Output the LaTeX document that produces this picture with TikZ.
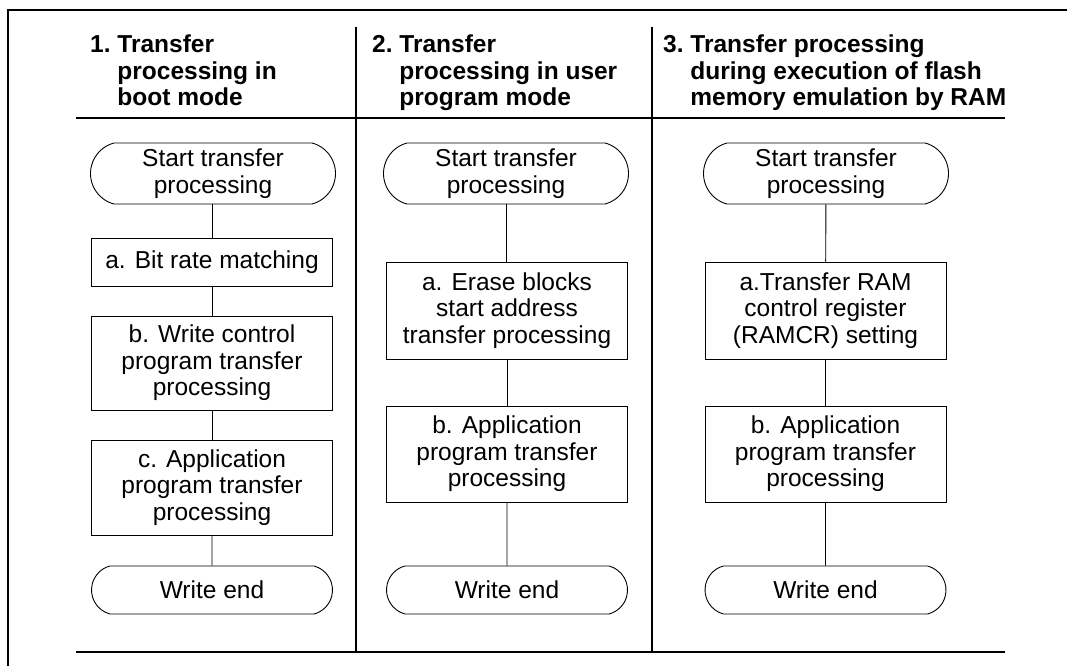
\documentclass[tikz,border=0pt]{standalone}
\usepackage{fontspec}
\setmainfont{Liberation Sans}
\usetikzlibrary{shapes.misc}
\newcommand\bodyfont{\fontsize{24.5}{26.5}\selectfont}
\newcommand\headfont{\fontsize{24.5}{26.5}\selectfont\bfseries}
\tikzset{
  box/.style={draw, line width=0.9pt, minimum width=241pt, inner sep=0pt, align=center, font=\bodyfont},
  term/.style={box, rounded rectangle, rounded rectangle arc length=150, minimum width=245pt},
  conn/.style={line width=0.9pt},
  rulel/.style={line width=2pt},
  divider/.style={line width=1.2pt},
  head/.style={anchor=base west, inner sep=0pt, font=\headfont}
}
\begin{document}
\begin{tikzpicture}[x=1pt,y=-1pt]
\useasboundingbox (0,0) rectangle (1067,666);
% frame
\draw[rulel] (8,666) -- (8,10) -- (1067,10);
\draw[rulel] (76,118) -- (1005,118);
\draw[rulel] (76,652) -- (1005,652);
\draw[divider] (356,27) -- (356,652);
\draw[divider] (652,27) -- (652,652);
% headers
\node[head] (h1) at (90,53) {\begin{tabular}[t]{@{}l@{\hspace{0.278em}}l@{}}1.&Transfer\\&processing in\\&boot mode\end{tabular}};
\node[head] (h2) at (372,53) {\begin{tabular}[t]{@{}l@{\hspace{0.278em}}l@{}}2.&Transfer\\&processing in user\\&program mode\end{tabular}};
\node[head] (h3) at (663,53) {\begin{tabular}[t]{@{}l@{\hspace{0.278em}}l@{}}3.&Transfer processing\\&during execution of flash\\&memory emulation by RAM\end{tabular}};
% column 1
\node[term, minimum height=61pt] (s1) at (213,173.5) {Start transfer\\processing};
\node[box, minimum height=48pt] (a1) at (212,262) {a. Bit rate matching};
\node[box, minimum height=94pt] (b1) at (212,363) {b. Write control\\program transfer\\processing};
\node[box, minimum height=95pt] (c1) at (212,487.5) {c. Application\\program transfer\\processing};
\node[term, minimum height=48pt, minimum width=241pt] (e1) at (212,590) {Write end};
\draw[conn] (s1.south -| a1.north) -- (a1.north);
\draw[conn] (a1) -- (b1);
\draw[conn] (b1) -- (c1);
\draw[conn] (c1) -- (e1);
% column 2
\node[term, minimum height=61pt] (s2) at (506,173.5) {Start transfer\\processing};
\node[box, minimum height=97pt] (a2) at (507,310.5) {a. Erase blocks\\start address\\transfer processing};
\node[box, minimum height=96pt] (b2) at (507,454) {b. Application\\program transfer\\processing};
\node[term, minimum height=48pt, minimum width=241pt] (e2) at (507,590) {Write end};
\draw[conn] (s2.south) -- (s2.south |- a2.north);
\draw[conn] (a2) -- (b2);
\draw[conn] (b2) -- (e2);
% column 3
\node[term, minimum height=61pt] (s3) at (826,173.5) {Start transfer\\processing};
\node[box, minimum height=97pt] (a3) at (825.5,310.5) {a.Transfer RAM\\control register\\(RAMCR) setting};
\node[box, minimum height=96pt] (b3) at (825.5,454) {b. Application\\program transfer\\processing};
\node[term, minimum height=48pt, minimum width=241pt] (e3) at (825.5,590) {Write end};
\draw[conn] (s3) -- (a3);
\draw[conn] (a3) -- (b3);
\draw[conn] (b3) -- (e3);
\end{tikzpicture}
\end{document}
